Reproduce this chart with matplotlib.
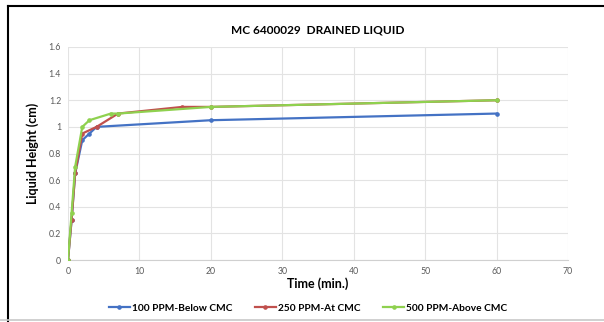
import matplotlib
matplotlib.use("Agg")
import matplotlib.pyplot as plt
from matplotlib.lines import Line2D

plt.rcParams['font.family'] = ['Lato', 'DejaVu Sans']

## -------------------- Data
series_names = ["100 PPM-Below CMC", "250 PPM-At CMC", "500 PPM-Above CMC"]
colors = ["#4472C4", "#C0504D", "#8FD14F"]

t_100 = [0, 0.5, 1, 2, 3, 4, 20, 60]
h_100 = [0, 0.30, 0.65, 0.90, 0.95, 1.00, 1.05, 1.10]

t_250 = [0, 0.5, 1, 2, 4, 7, 16, 20, 60]
h_250 = [0, 0.30, 0.65, 0.95, 1.00, 1.10, 1.15, 1.15, 1.20]

t_500 = [0, 0.5, 1, 2, 3, 6, 7, 20, 60]
h_500 = [0, 0.35, 0.70, 1.00, 1.05, 1.10, 1.10, 1.15, 1.20]

x_ticks = [0, 10, 20, 30, 40, 50, 60, 70]
y_ticks = [0, 0.2, 0.4, 0.6, 0.8, 1, 1.2, 1.4, 1.6]

## -------------------- Figure
fig = plt.figure(figsize=(6.04, 3.22), dpi=100)
ax = fig.add_axes([68 / 604, 1 - 260 / 322, 500 / 604, 213 / 322])

for t, h, c, name in zip([t_100, t_250, t_500], [h_100, h_250, h_500], colors, series_names):
    ax.plot(t, h, color=c, lw=1.6, marker='o', ms=2.3, label=name, zorder=3)

ax.set_xlim(0, 70)
ax.set_ylim(0, 1.6)
ax.set_xticks(x_ticks)
ax.set_yticks(y_ticks)
ax.set_yticklabels([("%g" % v) for v in y_ticks])
ax.grid(True, color="#E3E3E3", lw=0.8)
ax.set_axisbelow(True)
for s in ["top", "right", "left"]:
    ax.spines[s].set_visible(False)
ax.spines["bottom"].set_color("#D0D0D0")
ax.tick_params(length=0, labelsize=6.3, colors="#595959", pad=5)

ax.set_xlabel("Time (min.)", fontsize=9, fontweight='bold', labelpad=1)
ax.set_ylabel("Liquid Height (cm)", fontsize=9, fontweight='bold', labelpad=7)
ax.set_title("MC 6400029  DRAINED LIQUID", fontsize=8.6, fontweight='bold', pad=10)

handles = [Line2D([], [], color=c, lw=1.6, marker='o', ms=2.3) for c in colors]
fig.legend(handles, series_names, loc='center', bbox_to_anchor=(0.51, 1 - 308 / 322),
           ncol=3, frameon=False, handlelength=2.0, handletextpad=0.2,
           columnspacing=2.3, prop={'weight': 'bold', 'size': 7.3})

## -------------------- Screenshot frame
fig.add_artist(Line2D([8 / 604, 8 / 604], [0, 1 - 6 / 322], color='black', lw=1.5))
fig.add_artist(Line2D([8 / 604, 1], [1 - 6 / 322, 1 - 6 / 322], color='black', lw=1.5))
fig.add_artist(Line2D([0, 1], [1 - 320 / 322, 1 - 320 / 322], color='#C8C8C8', lw=1.2))

fig.savefig("out.png", dpi=100)
print("Done!")
